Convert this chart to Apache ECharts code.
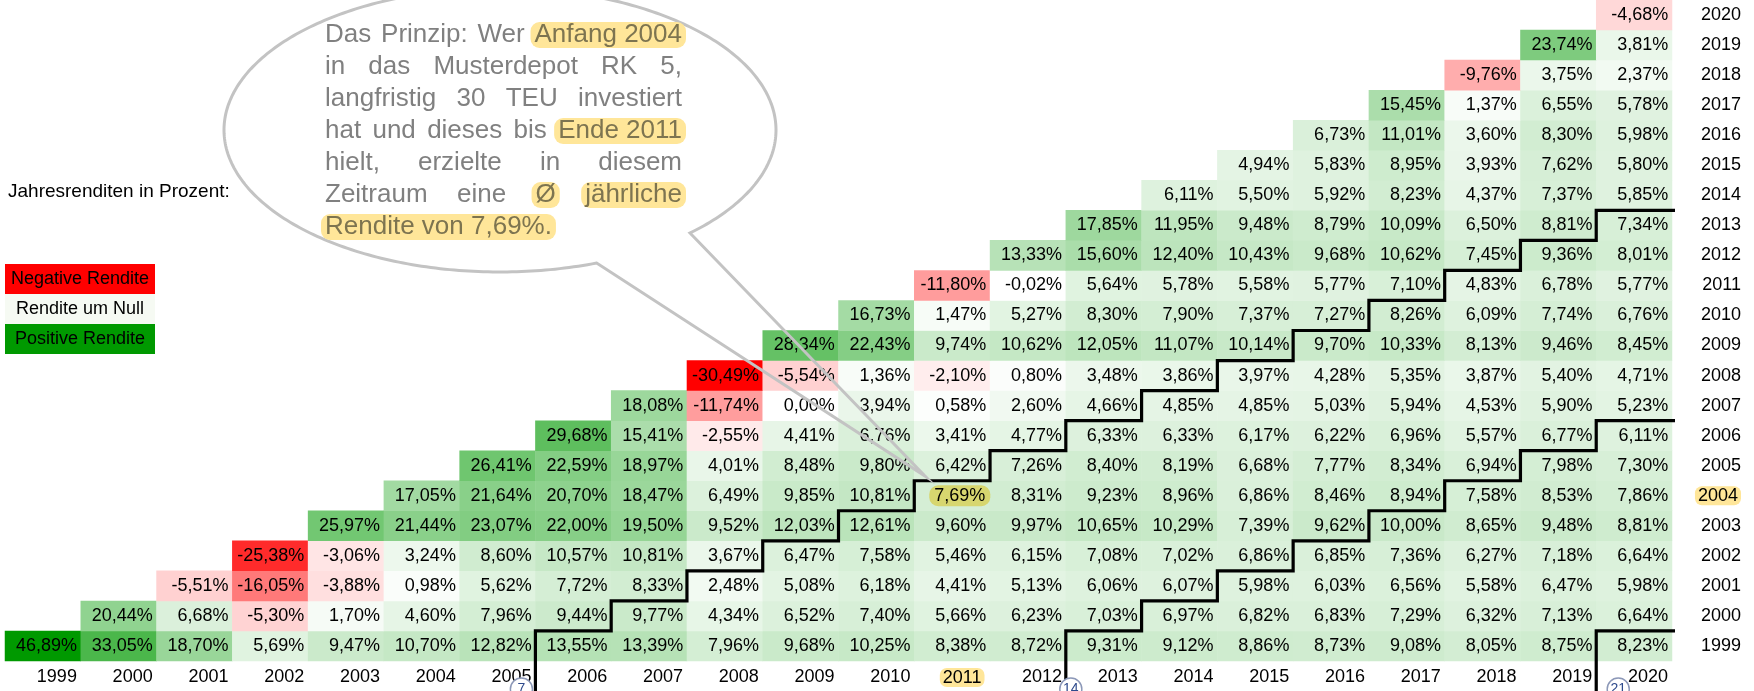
<!DOCTYPE html>
<html><head><meta charset="utf-8">
<script src="https://cdn.jsdelivr.net/npm/echarts@6/dist/echarts.min.js"></script>
<style>html,body{margin:0;padding:0;background:#fff}#c{width:1754px;height:691px}</style>
</head><body><div id="c"></div>
<script>
// ---------- DATA ----------
const years = ['1999','2000','2001','2002','2003','2004','2005','2006','2007','2008','2009','2010','2011','2012','2013','2014','2015','2016','2017','2018','2019','2020'];
// average annual return (%) for an investment starting in the given year, ending in year start..2020
const r1999 = [46.89, 33.05, 18.70, 5.69, 9.47, 10.70, 12.82, 13.55, 13.39, 7.96, 9.68, 10.25, 8.38, 8.72, 9.31, 9.12, 8.86, 8.73, 9.08, 8.05, 8.75, 8.23];
const r2000 = [20.44, 6.68, -5.30, 1.70, 4.60, 7.96, 9.44, 9.77, 4.34, 6.52, 7.40, 5.66, 6.23, 7.03, 6.97, 6.82, 6.83, 7.29, 6.32, 7.13, 6.64];
const r2001 = [-5.51, -16.05, -3.88, 0.98, 5.62, 7.72, 8.33, 2.48, 5.08, 6.18, 4.41, 5.13, 6.06, 6.07, 5.98, 6.03, 6.56, 5.58, 6.47, 5.98];
const r2002 = [-25.38, -3.06, 3.24, 8.60, 10.57, 10.81, 3.67, 6.47, 7.58, 5.46, 6.15, 7.08, 7.02, 6.86, 6.85, 7.36, 6.27, 7.18, 6.64];
const r2003 = [25.97, 21.44, 23.07, 22.00, 19.50, 9.52, 12.03, 12.61, 9.60, 9.97, 10.65, 10.29, 7.39, 9.62, 10.00, 8.65, 9.48, 8.81];
const r2004 = [17.05, 21.64, 20.70, 18.47, 6.49, 9.85, 10.81, 7.69, 8.31, 9.23, 8.96, 6.86, 8.46, 8.94, 7.58, 8.53, 7.86];
const r2005 = [26.41, 22.59, 18.97, 4.01, 8.48, 9.80, 6.42, 7.26, 8.40, 8.19, 6.68, 7.77, 8.34, 6.94, 7.98, 7.30];
const r2006 = [29.68, 15.41, -2.55, 4.41, 6.76, 3.41, 4.77, 6.33, 6.33, 6.17, 6.22, 6.96, 5.57, 6.77, 6.11];
const r2007 = [18.08, -11.74, 0.00, 3.94, 0.58, 2.60, 4.66, 4.85, 4.85, 5.03, 5.94, 4.53, 5.90, 5.23];
const r2008 = [-30.49, -5.54, 1.36, -2.10, 0.80, 3.48, 3.86, 3.97, 4.28, 5.35, 3.87, 5.40, 4.71];
const r2009 = [28.34, 22.43, 9.74, 10.62, 12.05, 11.07, 10.14, 9.70, 10.33, 8.13, 9.46, 8.45];
const r2010 = [16.73, 1.47, 5.27, 8.30, 7.90, 7.37, 7.27, 8.26, 6.09, 7.74, 6.76];
const r2011 = [-11.80, -0.02, 5.64, 5.78, 5.58, 5.77, 7.10, 4.83, 6.78, 5.77];
const r2012 = [13.33, 15.60, 12.40, 10.43, 9.68, 10.62, 7.45, 9.36, 8.01];
const r2013 = [17.85, 11.95, 9.48, 8.79, 10.09, 6.50, 8.81, 7.34];
const r2014 = [6.11, 5.50, 5.92, 8.23, 4.37, 7.37, 5.85];
const r2015 = [4.94, 5.83, 8.95, 3.93, 7.62, 5.80];
const r2016 = [6.73, 11.01, 3.60, 8.30, 5.98];
const r2017 = [15.45, 1.37, 6.55, 5.78];
const r2018 = [-9.76, 3.75, 2.37];
const r2019 = [23.74, 3.81];
const r2020 = [-4.68];
const rowsByStart = [r1999, r2000, r2001, r2002, r2003, r2004, r2005, r2006, r2007, r2008, r2009, r2010, r2011, r2012, r2013, r2014, r2015, r2016, r2017, r2018, r2019, r2020];
const holdingPeriods = [7, 14, 21];
const highlightStart = '2004', highlightEnd = '2011';
const legendTitle = 'Jahresrenditen in Prozent:';
const legendItems = ['Negative Rendite', 'Rendite um Null', 'Positive Rendite'];

// ---------- STYLE ----------
const FONT = '"Liberation Sans", Arial, sans-serif';
const GRID = {left: 5, right: 82, top: 0, bottom: 30};
const all = rowsByStart.flat();
const vMin = Math.min(...all), vMax = Math.max(...all);
function cellColor(v) {
  if (v < 0) { const t = v / vMin; const g = Math.round(255 * (1 - t)); return `rgb(255,${g},${g})`; }
  const t = v / vMax;
  const rb = Math.round(255 * (1 - t)), g = Math.round(255 - (255 - 153) * t);
  return `rgb(${rb},${g},${rb})`;
}
const fmt = v => v.toFixed(2).replace('.', ',') + '%';

const data = [];
rowsByStart.forEach((row, s) => {
  row.forEach((v, k) => {
    const e = s + k;
    const item = {value: [e, s, v], itemStyle: {color: cellColor(v)}};
    if (years[s] === highlightStart && years[e] === highlightEnd) {
      item.label = {backgroundColor: '#D7D66F', borderRadius: 9, padding: [2, 5, 1, 5], distance: 0};
    }
    data.push(item);
  });
});

// staircase lines (value overlay: column index / row index)
const extX = 22.48, extYBottom = -1.5;
function stair(N) {
  const pts = [[N - 0.5, extYBottom], [N - 0.5, 0.5]];
  let r = 1;
  while (N - 0.5 + r <= 20.5) {
    pts.push([N - 0.5 + r, r - 0.5]);
    pts.push([N - 0.5 + r, r + 0.5]);
    r++;
  }
  pts.push([extX, r - 0.5]);
  return pts;
}

const chart = echarts.init(document.getElementById('c'), null, {renderer: 'canvas'});
const option = {
  animation: false,
  backgroundColor: '#fff',
  textStyle: {fontFamily: FONT},
  grid: [Object.assign({}, GRID), Object.assign({}, GRID)],
  xAxis: [
    {type: 'category', data: years, gridIndex: 0, axisLine: {show: false}, axisTick: {show: false}, splitLine: {show: false},
     axisLabel: {interval: 0, margin: 7, fontSize: 18, color: '#000', fontFamily: FONT,
       formatter: v => v === highlightEnd ? '{s| }{h|' + v + '}' : '{a|' + v + '}',
       rich: {a: {width: 68, align: 'right', fontSize: 18, fontFamily: FONT},
              s: {width: 20, fontSize: 18},
              h: {backgroundColor: '#FFE699', borderRadius: 7, padding: [1, 3, 0, 3], fontSize: 18, fontFamily: FONT}}}},
    {type: 'value', gridIndex: 1, min: -0.5, max: 21.5, show: false}
  ],
  yAxis: [
    {type: 'category', data: years, gridIndex: 0, position: 'right', axisLine: {show: false}, axisTick: {show: false}, splitLine: {show: false},
     axisLabel: {interval: 0, align: 'right', margin: 69, fontSize: 18, color: '#000', fontFamily: FONT,
       formatter: v => v === highlightStart ? '{h|' + v + '}' : v,
       rich: {h: {backgroundColor: '#FFE699', borderRadius: 7, padding: [1, 3, 0, 3], fontSize: 18, fontFamily: FONT}}}},
    {type: 'value', gridIndex: 1, min: -0.5, max: 21.5, show: false}
  ],
  series: [
    {type: 'heatmap', xAxisIndex: 0, yAxisIndex: 0, data: data, silent: true,
     itemStyle: {borderWidth: 0},
     label: {show: true, position: 'insideRight', distance: 4, fontSize: 18, color: '#000', fontFamily: FONT,
             formatter: p => fmt(p.value[2])},
     emphasis: {disabled: true}}
  ].concat(holdingPeriods.map(N => ({
    type: 'line', xAxisIndex: 1, yAxisIndex: 1, data: stair(N), symbol: 'none', clip: false, silent: true, z: 10,
    lineStyle: {color: '#000', width: 3.2, join: 'miter', cap: 'butt'}
  })))
};
chart.setOption(option);

// ---------- annotations ----------
const g = [];
g.push({type: 'text', x: 8, y: 192, z: 50, style: {text: legendTitle, fontSize: 19, fontFamily: FONT, fill: '#000', textAlign: 'left', textVerticalAlign: 'middle'}});
const legColors = ['#FF0000', '#F6FAF3', '#009900'];
legendItems.forEach((t, i) => {
  const y0 = 264 + i * 30;
  g.push({type: 'rect', z: 50, shape: {x: 5, y: y0, width: 150, height: 30}, style: {fill: legColors[i]}});
  g.push({type: 'text', x: 80, y: y0 + 15.5, z: 51, style: {text: t, fontSize: 18, fontFamily: FONT, fill: '#000', textAlign: 'center', textVerticalAlign: 'middle'}});
});

// speech bubble
const E = {cx: 500, cy: 130, rx: 276, ry: 142};
const aStart = 69.5, aEnd = 46.7 + 360, tip = [925, 476];
const bpts = [];
for (let a = aStart; a <= aEnd + 0.01; a += 1) {
  const t = a * Math.PI / 180;
  bpts.push([E.cx + E.rx * Math.cos(t), E.cy + E.ry * Math.sin(t)]);
}
bpts.push(tip);
g.push({type: 'polygon', z: 60, shape: {points: bpts}, style: {fill: null, stroke: '#C3C3C3', lineWidth: 3}});

const bubbleLines = [
  [['Das'], ['Prinzip:'], ['Wer'], ['Anfang 2004', 1]],
  [['in'], ['das'], ['Musterdepot'], ['RK'], ['5,']],
  [['langfristig'], ['30'], ['TEU'], ['investiert']],
  [['hat'], ['und'], ['dieses'], ['bis'], ['Ende 2011', 1]],
  [['hielt,'], ['erzielte'], ['in'], ['diesem']],
  [['Zeitraum'], ['eine'], ['Ø', 1], ['jährliche', 1]],
  [['Rendite von 7,69%.', 1]]
];
const cv = document.createElement('canvas').getContext('2d');
const BF = 26;
cv.font = BF + 'px "Liberation Sans"';
const tx0 = 325, tx1 = 682, ty0 = 35, tdy = 32;
bubbleLines.forEach((words, li) => {
  const widths = words.map(w => cv.measureText(w[0]).width);
  const sum = widths.reduce((a, b) => a + b, 0);
  const last = li === bubbleLines.length - 1;
  const gap = (!last && words.length > 1) ? (tx1 - tx0 - sum) / (words.length - 1) : cv.measureText(' ').width;
  let x = tx0;
  const y = ty0 + li * tdy;
  words.forEach((w, i) => {
    if (w[1]) {
      g.push({type: 'rect', z: 61, shape: {x: x - 4, y: y - 13, width: widths[i] + 8, height: 26, r: 9}, style: {fill: '#FFE699'}});
    }
    g.push({type: 'text', x: x, y: y, z: 62, style: {text: w[0], fontSize: BF, fontFamily: FONT, fill: w[1] ? '#7D7450' : '#808080', textAlign: 'left', textVerticalAlign: 'middle'}});
    x += widths[i] + gap;
  });
});

// circled holding-period markers
const markOffsets = [-14, 5, 22];
holdingPeriods.forEach((N, i) => {
  const px = chart.convertToPixel({xAxisIndex: 1}, N - 0.5) + markOffsets[i];
  g.push({type: 'circle', z: 70, shape: {cx: px, cy: 689, r: 11}, style: {fill: '#fff', stroke: '#8C98B8', lineWidth: 1.5}});
  g.push({type: 'text', x: px, y: 689, z: 71, style: {text: String(N), fontSize: 14, fontFamily: FONT, fill: '#2E4A8C', textAlign: 'center', textVerticalAlign: 'middle'}});
});
chart.setOption({graphic: g});
</script></body></html>
